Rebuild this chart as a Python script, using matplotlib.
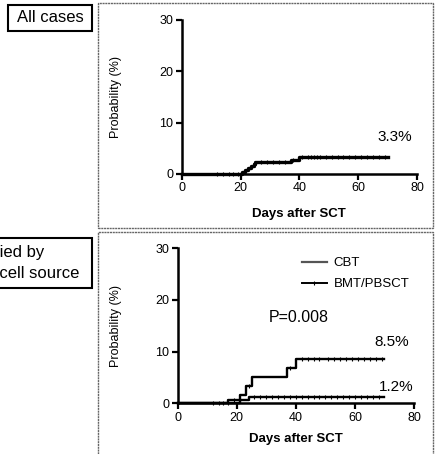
import numpy as np
import matplotlib.pyplot as plt
from matplotlib.patches import Rectangle
from matplotlib.lines import Line2D

plt.rcParams['font.family'] = ['Liberation Sans', 'DejaVu Sans']

# step curves: event days and cumulative incidence (%) after each step
all_days = [0, 20.5, 21.5, 22.5, 23.5, 24.5, 25, 37, 40, 70]
all_prob = [0, 0.4, 0.8, 1.2, 1.6, 2.0, 2.4, 2.8, 3.3, 3.3]
all_cens = [12, 14, 16, 17.5, 19, 27, 29, 31, 33, 35, 38, 41, 43, 44, 45, 46, 47,
            49, 51, 53, 55, 57, 59, 61, 63, 65, 67, 69]

cbt_days = [0, 21, 23, 25, 37, 40, 70]
cbt_prob = [0, 1.7, 3.4, 5.0, 6.8, 8.5, 8.5]
cbt_cens = [17, 24, 38, 42, 44, 46, 48, 51, 53, 55, 57, 59, 61, 63, 65, 67, 69]

bmt_days = [0, 17, 24, 70]
bmt_prob = [0, 0.6, 1.2, 1.2]
bmt_cens = [12, 14, 15.5, 19, 21, 26, 28, 30, 32, 34, 36, 38, 40, 42, 44, 46, 48,
            50, 52, 54, 56, 58, 60, 62, 64, 66, 68]

xticks = [0, 20, 40, 60, 80]
yticks = [0, 10, 20, 30]

W, H = 438, 454
fig = plt.figure(figsize=(W / 100, H / 100), dpi=100)


def step_at(days, prob, t):
    i = np.searchsorted(days, t, side='right') - 1
    return np.array(prob)[i]


def km(ax, days, prob, cens, lw=1.8, ms=3):
    ax.step(days, prob, where='post', color='black', lw=lw, clip_on=False, zorder=3)
    ax.plot(cens, step_at(days, prob, cens), ls='none', marker='|', ms=ms,
            mew=0.8, color='black', clip_on=False, zorder=3)


def style(ax, lab_x, xlab_y):
    ax.set_xlim(0, 80)
    ax.set_ylim(0, 30)
    ax.set_xticks(xticks)
    ax.set_yticks(yticks)
    for s in ['top', 'right']:
        ax.spines[s].set_visible(False)
    for s in ['left', 'bottom']:
        ax.spines[s].set_linewidth(1.8)
    ax.tick_params(direction='out', length=4, width=1.6, labelsize=9, pad=2)
    ax.set_xlabel('Days after SCT', fontsize=9.5, fontweight='bold')
    ax.set_ylabel('Probability (%)', fontsize=9)
    ax.xaxis.set_label_coords(0.5, xlab_y)
    ax.yaxis.set_label_coords(lab_x, 0.5)
    ax.patch.set_alpha(0)


# panel frames
for (x0, y0, x1, y1) in [(98, 3, 433, 228), (98, 232, 433, 470)]:
    fig.patches.append(Rectangle((x0 / W, 1 - y1 / H), (x1 - x0) / W, (y1 - y0) / H,
                                 transform=fig.transFigure, fill=False,
                                 ec='#666666', lw=1.0, ls=(0, (1.5, 0.5)), clip_on=False))

# label boxes
fig.patches.append(Rectangle((8 / W, 1 - 31 / H), 84 / W, 26 / H, transform=fig.transFigure,
                             fill=False, ec='black', lw=1.5))
fig.text(50 / W, 1 - 18 / H, 'All cases', ha='center', va='center', fontsize=12)
fig.patches.append(Rectangle((-60 / W, 1 - 288 / H), 152 / W, 50 / H, transform=fig.transFigure,
                             fill=False, ec='black', lw=1.5, clip_on=False))
fig.text(-44 / W, 1 - 263 / H, 'Stratified by\nStem cell source', ha='left', va='center',
         fontsize=12, linespacing=1.45)

# top: all cases
ax1 = fig.add_axes([181.7 / W, 1 - 174 / H, 235.3 / W, 154 / H])
km(ax1, all_days, all_prob, all_cens, lw=2.4, ms=3)
style(ax1, -0.254, -0.22)
ax1.text(72.5, 7.2, '3.3%', ha='center', va='center', fontsize=11)

# bottom: by stem cell source
ax2 = fig.add_axes([177.7 / W, 1 - 403.3 / H, 236.3 / W, 155 / H])
km(ax2, cbt_days, cbt_prob, cbt_cens, lw=1.7, ms=3)
km(ax2, bmt_days, bmt_prob, bmt_cens, lw=1.7, ms=3)
style(ax2, -0.236, -0.19)
ax2.text(41, 16.7, 'P=0.008', ha='center', va='center', fontsize=11.5)
ax2.text(72.5, 11.9, '8.5%', ha='center', va='center', fontsize=11)
ax2.text(73.9, 3.15, '1.2%', ha='center', va='center', fontsize=11)

handles = [Line2D([], [], color='#555555', lw=1.6),
           Line2D([], [], color='black', lw=1.4, marker='|', ms=3, mew=0.8, markevery=[1])]
leg = ax2.legend(handles, ['CBT', 'BMT/PBSCT'], loc='upper right', frameon=False,
                 fontsize=9.5, handlelength=1.9, handletextpad=0.5, labelspacing=0.65,
                 bbox_to_anchor=(1.03, 1.02))

fig.savefig('out.png', dpi=100)
